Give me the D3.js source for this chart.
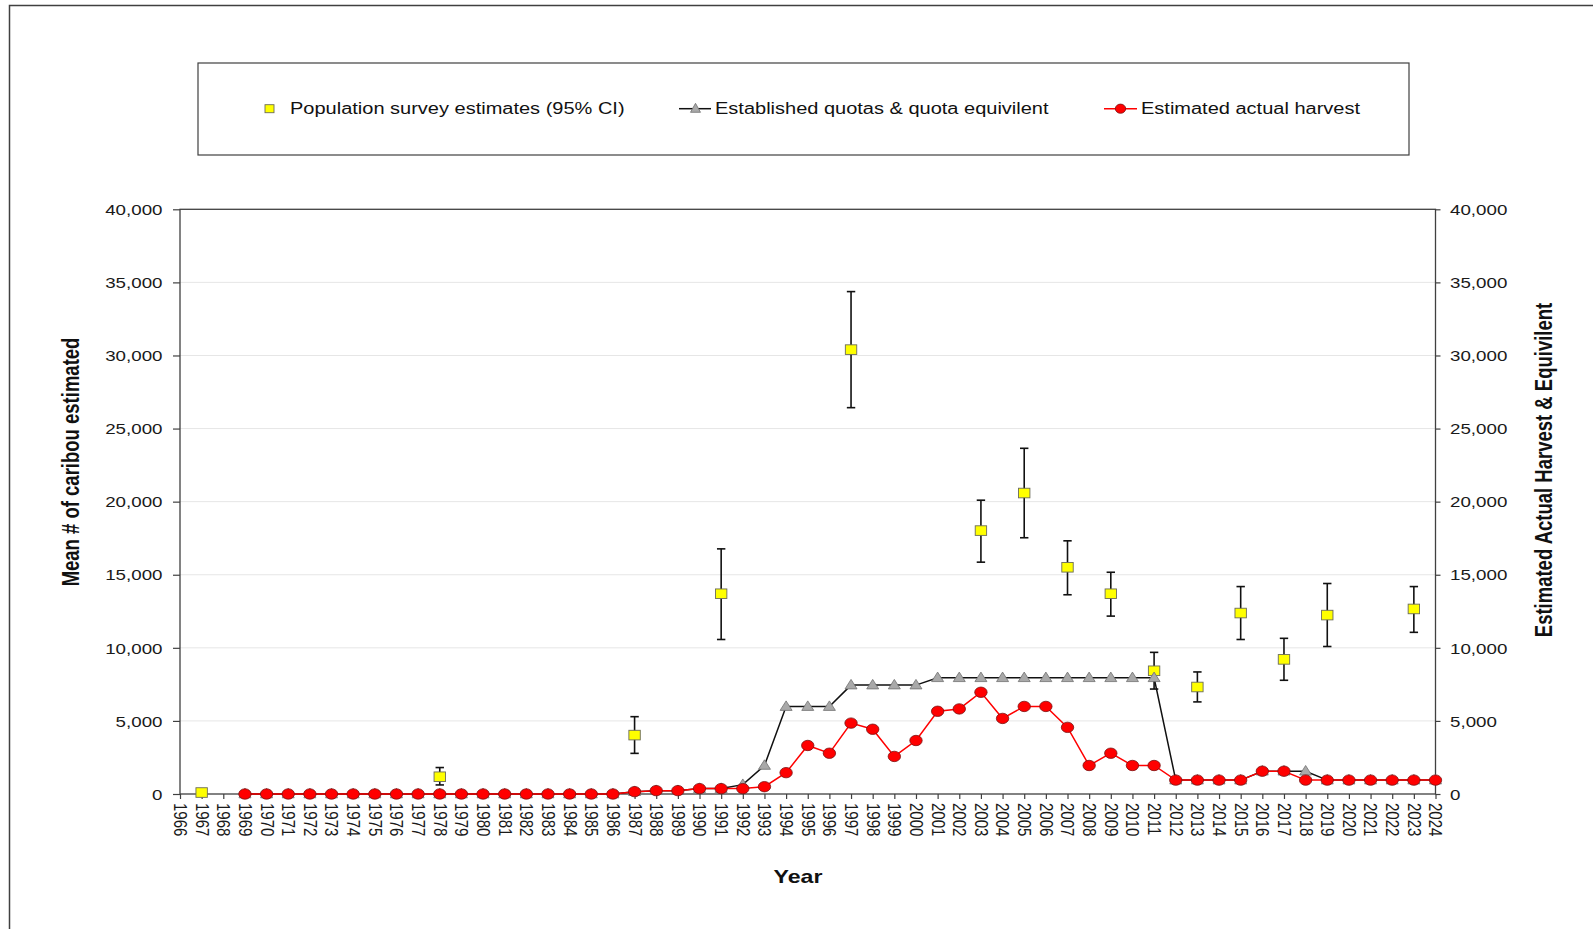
<!DOCTYPE html>
<html>
<head>
<meta charset="utf-8">
<script src="https://cdn.jsdelivr.net/npm/d3@7"></script>
<style>
  html, body { margin: 0; padding: 0; background: #fff; }
  svg { display: block; font-family: "Liberation Sans", Arial, sans-serif; }
</style>
</head>
<body>
<svg id="chart" width="1593" height="929"></svg>
<script>
// ---- Population survey estimates (mean with 95% CI) ----
const surveyYears = [1967, 1978, 1987, 1991, 1997, 2003, 2005, 2007, 2009, 2011, 2013, 2015, 2017, 2019, 2023];
const surveyMean  = [100, 1180, 4030, 13700, 30400, 18020, 20590, 15510, 13700, 8430, 7320, 12380, 9210, 12240, 12660];
const surveyLow   = [null, 620, 2780, 10570, 26430, 15860, 17530, 13630, 12170, 7180, 6300, 10570, 7780, 10090, 11060];
const surveyHigh  = [null, 1810, 5290, 16770, 34370, 20100, 23650, 17320, 15170, 9690, 8350, 14190, 10650, 14400, 14190];

// ---- Established quotas & quota equivalent, and estimated actual harvest (1969-2024) ----
const harvestYears = d3.range(1969, 2025);
const harvest = [
  0, 0, 0, 0, 0, 0, 0, 0, 0, 0,            // 1969-1978
  0, 0, 0, 0, 0, 0, 0, 0,                  // 1979-1986
  160, 230, 230, 370, 370, 370, 500,       // 1987-1993
  1460, 3320, 2790, 4850, 4430, 2570, 3660, // 1994-2000
  5660, 5820, 6960, 5170, 5990, 5990, 4560, // 2001-2007
  1950, 2790, 1950, 1950,                  // 2008-2011
  950, 950, 950, 950, 1560, 1560, 950,     // 2012-2018
  950, 950, 950, 950, 950, 950             // 2019-2024
];
const quota = [
  0, 0, 0, 0, 0, 0, 0, 0, 0, 0,            // 1969-1978
  0, 0, 0, 0, 0, 0, 0, 0,                  // 1979-1986
  160, 230, 230, 370, 370, 640, 1950,      // 1987-1993
  5980, 5980, 5980, 7450, 7450, 7450, 7450, // 1994-2000
  7950, 7950, 7950, 7950, 7950, 7950, 7950, // 2001-2007
  7950, 7950, 7950, 7950,                  // 2008-2011
  950, 950, 950, 950, 1560, 1560, 1560,    // 2012-2018
  950, 950, 950, 950, 950, 950             // 2019-2024
];

// ---- Axis ticks ----
const yTicks = [0, 5000, 10000, 15000, 20000, 25000, 30000, 35000, 40000];
const xTicks = d3.range(1966, 2025);

// ---- Labels ----
const legendLabels = [
  "Population survey estimates (95% CI)",
  "Established quotas & quota equivilent",
  "Estimated actual harvest"
];
const leftTitle = "Mean # of caribou estimated";
const rightTitle = "Estimated Actual Harvest & Equivilent";
const bottomTitle = "Year";

// ---------------------------------------------------------------
const SX = 1.25;              // lettering is drawn wide
const ink = "#404040";
const svg = d3.select("#chart");

const x = d3.scaleLinear().domain([1966, 2024]).range([180, 1435.5]);
const y = d3.scaleLinear().domain([0, 40000]).range([794, 209.3]);

// outer chart border
svg.append("rect")
  .attr("x", 9.5).attr("y", 5.5).attr("width", 1700).attr("height", 1000)
  .attr("fill", "none").attr("stroke", ink).attr("stroke-width", 1.5);

// horizontal gridlines
svg.append("g").selectAll("line")
  .data(yTicks.filter(v => v > 0 && v < 40000))
  .join("line")
  .attr("x1", x(1966)).attr("x2", x(2024))
  .attr("y1", d => y(d)).attr("y2", d => y(d))
  .attr("stroke", "#e6e6e6").attr("stroke-width", 1);

// left axis
const gL = svg.append("g").attr("transform", `translate(${x(1966)},0)`)
  .call(d3.axisLeft(y).tickValues(yTicks).tickSize(7).tickSizeOuter(0).tickFormat(d3.format(",")));
// right axis
const gR = svg.append("g").attr("transform", `translate(${x(2024)},0)`)
  .call(d3.axisRight(y).tickValues(yTicks).tickSize(5).tickSizeOuter(0).tickFormat(d3.format(",")));
// bottom axis
const gB = svg.append("g").attr("transform", `translate(0,${y(0)})`)
  .call(d3.axisBottom(x).tickValues(xTicks).tickSize(5).tickSizeOuter(0).tickFormat(d3.format("d")));

[gL, gR, gB].forEach(g => {
  g.select(".domain").remove();
  g.selectAll(".tick line").attr("stroke", ink).attr("stroke-width", 1.2);
  g.selectAll(".tick text").attr("fill", "#1a1a1a")
    .style("font-size", "15px").style("font-family", '"Liberation Sans", Arial, sans-serif');
});
gL.selectAll(".tick text")
  .attr("x", 0).attr("dy", "0.35em").attr("text-anchor", "end")
  .attr("transform", `translate(-17.5,0) scale(${SX},1)`);
gR.selectAll(".tick text")
  .attr("x", 0).attr("dy", "0.35em").attr("text-anchor", "start")
  .attr("transform", `translate(14.5,0) scale(${SX},1)`);
gB.selectAll(".tick text")
  .attr("x", 0).attr("y", 0).attr("dy", "0.35em").attr("text-anchor", "start")
  .attr("transform", `translate(0,9) scale(${SX},1) rotate(90)`);

// plot frame
svg.append("rect")
  .attr("x", x(1966)).attr("y", y(40000))
  .attr("width", x(2024) - x(1966)).attr("height", y(0) - y(40000))
  .attr("fill", "none").attr("stroke", ink).attr("stroke-width", 1.3);

// ---- survey estimates with error bars ----
const survey = surveyYears.map((yr, i) => ({ yr, m: surveyMean[i], lo: surveyLow[i], hi: surveyHigh[i] }));
const gS = svg.append("g");
const bars = survey.filter(d => d.lo != null);
gS.selectAll("line.bar").data(bars).join("line").attr("class", "bar")
  .attr("x1", d => x(d.yr)).attr("x2", d => x(d.yr))
  .attr("y1", d => y(d.lo)).attr("y2", d => y(d.hi))
  .attr("stroke", "#111").attr("stroke-width", 1.6);
["lo", "hi"].forEach(k => {
  gS.selectAll("line.cap-" + k).data(bars).join("line").attr("class", "cap-" + k)
    .attr("x1", d => x(d.yr) - 4.2).attr("x2", d => x(d.yr) + 4.2)
    .attr("y1", d => y(d[k])).attr("y2", d => y(d[k]))
    .attr("stroke", "#111").attr("stroke-width", 1.6);
});
gS.selectAll("rect").data(survey).join("rect")
  .attr("x", d => x(d.yr) - 5.7).attr("y", d => y(d.m) - 4.8)
  .attr("width", 11.4).attr("height", 9.6)
  .attr("fill", "#ffff00").attr("stroke", "#6b6b5a").attr("stroke-width", 0.9);

// ---- quotas ----
const q = harvestYears.map((yr, i) => ({ yr, v: quota[i] }));
const line = d3.line().x(d => x(d.yr)).y(d => y(d.v));
const tri = (cx, cy, w, h) => `M${cx},${cy - h * 0.6}L${cx + w / 2},${cy + h * 0.4}L${cx - w / 2},${cy + h * 0.4}Z`;
svg.append("path").datum(q).attr("d", line)
  .attr("fill", "none").attr("stroke", "#111").attr("stroke-width", 1.5);
svg.append("g").selectAll("path").data(q).join("path")
  .attr("d", d => tri(x(d.yr), y(d.v), 12, 9.5))
  .attr("fill", "#a9a9a9").attr("stroke", "#707070").attr("stroke-width", 0.8);

// ---- harvest ----
const h = harvestYears.map((yr, i) => ({ yr, v: harvest[i] }));
svg.append("path").datum(h).attr("d", line)
  .attr("fill", "none").attr("stroke", "#ff0000").attr("stroke-width", 1.5);
svg.append("g").selectAll("ellipse").data(h).join("ellipse")
  .attr("cx", d => x(d.yr)).attr("cy", d => y(d.v))
  .attr("rx", 6.2).attr("ry", 5.2)
  .attr("fill", "#ff0000").attr("stroke", "#7a1010").attr("stroke-width", 0.8);

// ---- axis titles ----
const title = (tx, ty, rot, txt) => svg.append("text")
  .attr("transform", `translate(${tx},${ty}) scale(${SX},1) rotate(${rot})`)
  .attr("text-anchor", "middle").attr("dy", "0.35em")
  .style("font-size", "18.5px").style("font-weight", "bold").attr("fill", "#111")
  .text(txt);
title(71, 462, -90, leftTitle);
title(1544, 470, -90, rightTitle);
title(798, 877, 0, bottomTitle);

// ---- legend ----
const lg = svg.append("g");
lg.append("rect").attr("x", 198).attr("y", 63).attr("width", 1211).attr("height", 92)
  .attr("fill", "#fff").attr("stroke", ink).attr("stroke-width", 1.2);
const ly = 108.7;
lg.append("rect").attr("x", 265).attr("y", ly - 4).attr("width", 9).attr("height", 8)
  .attr("fill", "#ffff00").attr("stroke", "#6b6b5a").attr("stroke-width", 0.9);
lg.append("line").attr("x1", 679).attr("x2", 711).attr("y1", ly).attr("y2", ly)
  .attr("stroke", "#111").attr("stroke-width", 1.5);
lg.append("path").attr("d", tri(695.5, ly, 10, 9))
  .attr("fill", "#a9a9a9").attr("stroke", "#707070").attr("stroke-width", 0.8);
lg.append("line").attr("x1", 1104).attr("x2", 1137).attr("y1", ly).attr("y2", ly)
  .attr("stroke", "#ff0000").attr("stroke-width", 1.5);
lg.append("ellipse").attr("cx", 1120.5).attr("cy", ly).attr("rx", 5.2).attr("ry", 4.6)
  .attr("fill", "#ff0000").attr("stroke", "#7a1010").attr("stroke-width", 0.8);
[[290, legendLabels[0]], [715, legendLabels[1]], [1141, legendLabels[2]]].forEach(([lx, t]) => {
  lg.append("text")
    .attr("transform", `translate(${lx},${ly}) scale(${SX},1)`)
    .attr("dy", "0.35em").style("font-size", "16px").attr("fill", "#111")
    .text(t);
});
</script>
</body>
</html>
